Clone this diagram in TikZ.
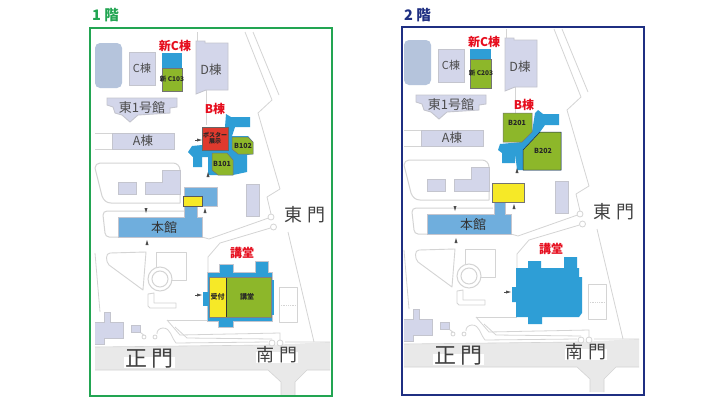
\documentclass[tikz,border=0pt]{standalone}
\usepackage{fontspec}
\setmainfont{Noto Sans CJK JP}
\definecolor{bldg}{HTML}{D3D6EA}
\definecolor{bldgedge}{HTML}{C4C5CE}
\definecolor{roadline}{HTML}{D4D4D4}
\definecolor{pondc}{HTML}{B5C4DC}
\definecolor{bandc}{HTML}{E9E9E9}
\definecolor{hallblue}{HTML}{6FAEDD}
\definecolor{roomblue}{HTML}{2E9ED6}
\definecolor{roomgreen}{HTML}{8DB72A}
\definecolor{roomyellow}{HTML}{F6E927}
\definecolor{roomred}{HTML}{DF3A2E}
\definecolor{framegreen}{HTML}{22A552}
\definecolor{framenavy}{HTML}{1F2F82}
\definecolor{labelred}{HTML}{E60E1E}
\tikzset{
  roadl/.style={draw=roadline,line width=0.8pt,line join=round},
  fieldl/.style={draw=roadline,fill=black!4,line width=0.9pt,line join=round},
  bldgs/.style={draw=bldgedge,fill=bldg,line width=0.9pt},
  hall/.style={fill=hallblue,draw=bldgedge,line width=0.6pt},
  corridor/.style={fill=roomblue,draw=none},
  greenroom/.style={fill=roomgreen,draw=black!55,line width=0.5pt},
  yellowroom/.style={fill=roomyellow,draw=black!65,line width=0.6pt},
  mapl/.style={font=\fontsize{#1}{#1}\selectfont,text=black!70,inner sep=0pt},
  redl/.style={font=\fontsize{#1}{#1}\selectfont\bfseries,text=labelred,inner sep=0pt},
  rooml/.style={font=\fontsize{#1}{#1}\selectfont\bfseries,text=black!85,inner sep=0pt,align=center},
  gatel/.style={font=\fontsize{#1}{#1}\selectfont,text=black!75,inner xsep=1pt,inner ysep=1pt,text height=0.85em,text depth=0.05em,fill=white},
  panel/.style={line width=1.5pt,draw=#1},
  title/.style={font=\fontsize{14.5}{14.5}\selectfont\bfseries,text=#1,inner sep=0pt},
  ptr/.style={fill=black!70,draw=none}
}
\newcommand{\mkup}[2]{\fill[ptr] (#1-1.5,#2+3)--(#1,#2-2)--(#1+1.5,#2+3)--cycle;}
\newcommand{\mkdown}[2]{\fill[ptr] (#1-1.5,#2-3)--(#1,#2+2)--(#1+1.5,#2-3)--cycle;}
\newcommand{\mkright}[2]{\fill[ptr] (#1-2,#2-1.5)--(#1+3,#2)--(#1-2,#2+1.5)--cycle; \draw[ptr,draw=black!70,line width=0.4pt] (#1-4,#2)--(#1,#2);}
\newcommand{\basemap}[1]{%
  % gate band and road
  \fill[bandc] (95,347)--(270,345)--(330,342)--(330,370)--(307,370)--(295,382)--(295,395)--(281,395)--(281,382)--(268,370)--(95,370)--cycle;
  \draw[roadl,line width=0.6pt] (95,370)--(268,370)--(281,382)--(281,395) (295,395)--(295,382)--(307,370)--(330,370);
  \draw[roadl,line width=0.6pt] (95,347)--(270,345) (285,342)--(330,342);
  % upper right roads
  \draw[roadl] (245,32)--(272,100)--(258,113)--(280,189)--(267,197)--(271,214);
  \draw[roadl] (253,32)--(279,95);
  \draw[roadl] (288,232)--(314,342);
  \draw[roadl] (197,32)--(197,41) (206,90)--(206,125);
  \draw[roadl] (95,133)--(112,133) (95,149)--(112,149);
  % service roads near east gate
  \draw[roadl] (268.5,218)--(209,239)--(202,237);
  \draw[roadl] (270.5,228)--(220,243)--(208,257)--(208,273);
  \draw[roadl] (95,253)--(100,312);
  \draw[roadl] (167,320)--(208,320);
  % yard loop
  \draw[roadl,line width=1pt] (100,163)--(173,163) to[out=0,in=90] (180,170)--(180,203)--(111,203) to[out=180,in=-70] (102,196)--(95,168) to[out=90,in=180] (100,163);
  \draw[roadl,line width=1pt] (184,211)--(107,211) to[out=180,in=90] (103,215)--(105,233) to[out=-80,in=180] (109,237)--(118,237);
  % field shapes
  \draw[fieldl,fill=white] (110,253)--(146,252)--(143,290)--(109,265) to[out=135,in=180] cycle;
  \draw[fieldl,fill=white] (156,252)--(186,252)--(186,280)--(156,280)--cycle;
  \draw[fieldl,fill=white] (148,294)--(154,293)--(154,303)--(176,303)--(176,308)--(150,308)--(148,306)--cycle;
  \draw[draw=roadline,fill=white,line width=1pt] (160,279) circle (12);
  \draw[draw=roadline,line width=1pt] (160,279) circle (8);
  % lower roads
  \draw[roadl] (167,320)--(180,335)--(280,333)--(280,340);
  \draw[roadl] (175,327)--(187,338)--(272,339);
  \draw[roadl] (145,336) to[out=120,in=-90] (139,330);
  \draw[roadl] (157,334) to[out=100,in=180] (163,328) to[out=0,in=130] (176,343)--(268,342);
  \draw[roadl,fill=white] (144,337) circle (2);
  \draw[roadl,fill=white] (155,337) circle (2);
  \draw[roadl,fill=white] (272,343) circle (3);
  \draw[roadl,fill=white] (280,343) circle (3);
  \draw[roadl,fill=white] (271,217) circle (3);
  \draw[roadl,fill=white] (273.5,227) circle (3);
  % parking
  \draw[roadl,line width=1pt,fill=white] (279,287) rectangle (297,322);
  \draw[roadl,densely dotted,line width=0.5pt] (279,305)--(297,305);
  % buildings
  \fill[pondc,rounded corners=5pt] (95,43) rectangle (122,88);
  \draw[bldgs] (129,52) rectangle (155,85);
  \draw[bldgs] (196,41)--(205,41)--(205,43)--(228,43)--(228,90)--(206,90)--(196,94)--cycle;
  \draw[bldgs] (107,98)--(177,98)--(177,107)--(170,108)--(170,113)--(138,115)--(130,122)--(122,115)--(115,113)--(113,107)--(107,105)--cycle;
  \draw[bldgs] (112,133) rectangle (174,149);
  \draw[bldgs] (118,182) rectangle (136,194);
  \draw[bldgs] (145,182)--(162,182)--(162,170)--(180,170)--(180,194)--(145,194)--cycle;
  \draw[bldgs] (246,184) rectangle (259,216);
  \draw[bldgs] (95,322)--(104,322)--(104,312)--(110,312)--(110,322)--(123,322)--(123,338)--(104,338)--(104,344)--(95,344);
  \draw[bldgs] (131,325) rectangle (140,332);
  % map labels
  \node[mapl=11] (cb#1) at (142,68.5) {C棟};
  \node[mapl=12.5] (db#1) at (211,69.5) {D棟};
  \node[mapl=13] (e1#1) at (142,108) {東1号館};
  \node[mapl=12.5] (ab#1) at (143,141) {A棟};
  \node[gatel=18] (eg#1) at (305,217) {東 門};
  \node[gatel=22] (mg#1) at (149.5,362) {正 門};
  \node[gatel=18] (sg#1) at (277,357) {南 門};
}
\begin{document}
\begin{tikzpicture}[x=1pt,y=-1pt]
\useasboundingbox (0,0) rectangle (710,410);
\fill[white] (0,0) rectangle (710,410);

% ---------- first floor ----------
\begin{scope}
  \basemap{a}
  \fill[roomblue] (162,53) rectangle (182,68);
  \node[greenroom,minimum width=20pt,minimum height=23pt,inner sep=0pt,anchor=north west] (c103) at (162,68) {};
  \node[rooml=6.5] (c103t) at (172,79) {新 C103};
  % B building
  \fill[corridor] (226,114)--(231,117)--(235,117)--(250,117)--(250,127)--(235,127)--(232,136)--(248,136)--(253,142)--(253,154)--(247,155)--(247,172)--(233,175)--(208,175)--(208,157)--(202,157)--(202,167)--(193,167)--(193,157)--(188,152)--(192,146)--(202,145)--(225,127)--cycle;
  \draw[fill=roomred,draw=black!60,line width=0.5pt] (202,127) rectangle (228,150);
  \node[rooml=6] (post) at (215,138.5) {ポスター\\展示};
  \draw[greenroom] (232,137)--(248,137)--(253,142)--(253,154)--(238,154)--(232,149)--cycle;
  \node[rooml=7] (b102) at (243,146) {B102};
  \draw[greenroom] (212,153)--(227,153)--(233,160)--(233,175)--(218,175)--(212,170)--cycle;
  \node[rooml=7] (b101) at (222,164) {B101};
  % main hall
  \draw[hall] (118,217)--(184,217)--(184,187)--(217,187)--(217,206)--(197,206)--(197,217)--(202,217)--(202,237)--(118,237)--cycle;
  \node[yellowroom,minimum width=19pt,minimum height=10pt,inner sep=0pt,anchor=north west] (yb1) at (183,196) {};
  \node[mapl=13,text=white!20!black] (hk1) at (164,228) {本館};
  % auditorium
  \fill[bldgedge] (207,272) rectangle (273,322);
  \fill[bldgedge] (219,264) rectangle (234,272);
  \fill[bldgedge] (255,261) rectangle (269,272);
  \fill[bldgedge] (218,322) rectangle (234,328);
  \fill[corridor] (208,273) rectangle (272,321);
  \fill[corridor] (220,265) rectangle (233,273);
  \fill[corridor] (256,262) rectangle (268,273);
  \fill[corridor] (219,321) rectangle (233,327);
  \fill[corridor] (203,292) rectangle (208,306);
  \fill[corridor] (272,280) rectangle (274,315);
  \node[fill=roomyellow,minimum width=17pt,minimum height=40pt,inner sep=0pt,anchor=north west] (uk1) at (209,277) {};
  \node[fill=roomgreen,minimum width=45pt,minimum height=40pt,inner sep=0pt,anchor=north west] (kd1) at (226,277) {};
  \draw[black!80,line width=0.6pt] (uk1.north east)--(uk1.south east);
  \draw[black!50,line width=0.4pt] (uk1.north west)--(kd1.north east)--(kd1.south east)--(uk1.south west)--cycle;
  \node[rooml=7] (ukt) at (217.5,297) {受付};
  \node[rooml=7] (kdt) at (247,297) {講堂};
  % red labels
  \node[redl=12] (nc1) at (175,46) {新C棟};
  \node[redl=12] (bb1) at (215,109) {B棟};
  \node[redl=12] (kd1l) at (242,253) {講堂};
  % markers
  \mkright{199}{140}
  \mkright{199}{295}
  \mkup{208}{174}
  \mkup{205}{210}
  \mkdown{146}{211}
  \mkup{147}{242}
\end{scope}
\node[panel=framegreen,minimum width=242pt,minimum height=368pt,inner sep=0pt,anchor=north west] (f1) at (89,27) {};
\node[title=framegreen,anchor=west] (t1) at (92,15) {1 階};

% ---------- second floor ----------
\begin{scope}[shift={(309,-3)}]
  \basemap{b}
  \mkdown{146}{212}
  \mkup{147}{243}
\end{scope}
\begin{scope}
  \fill[roomblue] (470,49) rectangle (491,59);
  \node[greenroom,minimum width=21pt,minimum height=29pt,inner sep=0pt,anchor=north west] (c203) at (470,59) {};
  \node[rooml=6.5] (c203t) at (481,73) {新 C203};
  % B building
  \fill[corridor] (535,113)--(538,110)--(543,114)--(559,114)--(559,125)--(545,125)--(540,132)--(561,132)--(561,170)--(517,170)--(515,152)--(515,163)--(502,163)--(502,153)--(498,150)--(500,144)--(522,142)--(532,132)--cycle;
  \draw[greenroom] (503,113)--(532,113)--(532,132)--(522,142)--(503,142)--cycle;
  \node[rooml=7] (b201) at (517,123) {B201};
  \draw[greenroom,draw=framenavy!70!black] (540,132)--(561,132)--(561,170)--(523,170)--(523,150)--cycle;
  \node[rooml=7] (b202) at (543,151) {B202};
  % main hall
  \draw[hall] (427,214)--(494,214)--(494,202)--(505,202)--(505,214)--(511,214)--(511,234)--(427,234)--cycle;
  \node[yellowroom,draw=black!55,minimum width=32pt,minimum height=19pt,inner sep=0pt,anchor=north west] (yb2) at (492,183) {};
  \node[mapl=13,text=white!20!black] (hk2) at (473,225) {本館};
  % auditorium
  \fill[corridor] (516,268)--(528,268)--(528,261)--(541,261)--(541,268)--(564,268)--(564,257)--(577,257)--(577,268)--(579,268)--(579,277)--(582,277)--(582,313)--(579,317)--(542,317)--(542,324)--(528,324)--(528,317)--(516,317)--(516,302)--(512,302)--(512,287)--(516,287)--cycle;
  % red labels
  \node[redl=12] (nc2) at (484,42) {新C棟};
  \node[redl=12] (bb2) at (524,105) {B棟};
  \node[redl=12] (kd2l) at (551,249) {講堂};
  % markers
  \mkright{508}{292}
  \mkup{517}{170}
  \mkup{514}{206}
\end{scope}
\node[panel=framenavy,minimum width=242pt,minimum height=368pt,inner sep=0pt,anchor=north west] (f2) at (401,26) {};
\node[title=framenavy,anchor=west] (t2) at (404,15) {2 階};
\end{tikzpicture}
\end{document}
